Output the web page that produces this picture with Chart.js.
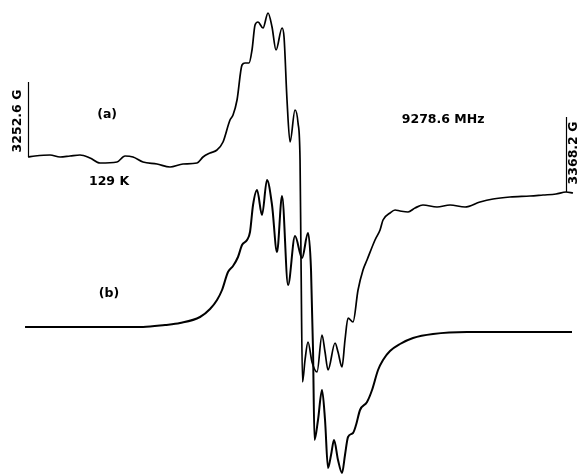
<!DOCTYPE html>
<html>
<head>
<meta charset="utf-8">
<script src="https://cdn.jsdelivr.net/npm/chart.js@4/dist/chart.umd.min.js"></script>
<style>
  html, body { margin: 0; padding: 0; background: #fff; }
  #wrap { width: 577px; height: 475px; position: relative; }
</style>
</head>
<body>
<div id="wrap"><canvas id="c"></canvas></div>
<script>
// ---- Data (magnetic field in gauss, signal in arbitrary units) ----
// (a) experimental spectrum, 129 K
const fieldA = [3252.60, 3254.10, 3257.33, 3259.48, 3261.63, 3263.77, 3265.92, 3268.07, 3271.72, 3273.44,
  3275.16, 3277.31, 3280.32, 3283.11, 3285.91, 3288.91, 3290.20, 3291.71, 3293.21, 3294.50,
  3296.00, 3296.65, 3297.51, 3298.58, 3299.23, 3300.09, 3300.73, 3301.38, 3302.02, 3303.09,
  3304.17, 3305.03, 3305.89, 3307.18, 3307.61, 3308.25, 3308.90, 3309.97, 3310.62, 3311.05,
  3311.26, 3311.58, 3312.12, 3312.76, 3313.62, 3314.70, 3315.77, 3316.42, 3317.06, 3318.57,
  3319.21, 3320.07, 3320.71, 3321.36, 3322.43, 3323.51, 3324.58, 3325.44, 3327.16, 3328.24,
  3328.88, 3330.38, 3331.46, 3332.53, 3334.25, 3335.76, 3337.47, 3340.48, 3343.28, 3346.50,
  3349.72, 3352.52, 3356.17, 3360.47, 3363.26, 3366.05, 3368.20, 3369.70];
const signalA = [0, 1, 2, 0, 1, 2, -1, -6, -5, 1,
  0, -5, -7, -10, -7, -6, 0, 4, 7, 15,
  37, 42, 57, 92, 94, 94, 107, 132, 135, 129,
  144, 130, 107, 129, 120, 57, 15, 47, 34, -3,
  -103, -225, -203, -185, -205, -215, -178, -195, -213, -186,
  -195, -210, -183, -161, -165, -133, -113, -103, -83, -73,
  -63, -56, -53, -54, -55, -51, -48, -50, -48, -50,
  -45, -42, -40, -39, -38, -37, -35, -36];

// (b) simulated spectrum
const fieldB = [3251.96, 3259.48, 3268.07, 3277.31, 3282.04, 3285.26, 3289.56, 3291.71, 3293.21, 3294.29,
  3295.57, 3296.65, 3297.72, 3298.58, 3299.66, 3300.30, 3300.95, 3301.81, 3302.88, 3303.95,
  3305.03, 3306.10, 3307.18, 3308.47, 3309.97, 3311.48, 3312.76, 3313.41, 3313.84, 3314.16,
  3314.91, 3315.77, 3316.42, 3317.06, 3317.71, 3318.35, 3319.21, 3320.07, 3320.71, 3321.36,
  3322.43, 3323.08, 3323.94, 3325.44, 3326.52, 3327.81, 3328.88, 3330.38, 3332.53, 3335.33,
  3339.62, 3346.93, 3354.02, 3362.61, 3369.49];
const signalB = [0, 0, 0, 0, 2, 4, 10, 18, 27, 37,
  55, 61, 70, 82, 87, 95, 122, 137, 112, 147,
  122, 75, 131, 42, 91, 69, 94, 57, -23, -113,
  -93, -63, -93, -141, -128, -113, -133, -146, -128, -110,
  -106, -98, -83, -75, -63, -43, -33, -24, -17, -11,
  -7, -5, -5, -5, -5];

// Field markers and annotation texts
const fieldLimits = [3252.6, 3368.2];
const fieldLimitLabels = ['3252.6 G', '3368.2 G'];
const traceLabels = ['(a)', '(b)'];
const tempLabel = '129 K';
const freqLabel = '9278.6 MHz';

// ---- Layout (display offsets, not data) ----
const offsetA = 318, offsetB = 148;
const xMin = 3246.58, xMax = 3370.56;

const ptsA = fieldA.map((f, i) => ({ x: f, y: signalA[i] + offsetA }));
const ptsB = fieldB.map((f, i) => ({ x: f, y: signalB[i] + offsetB }));

const textItems = [
  { text: traceLabels[0], x: 3269.6, y: 360 },
  { text: tempLabel, x: 3270.0, y: 293 },
  { text: freqLabel, x: 3341.8, y: 355 },
  { text: traceLabels[1], x: 3270.0, y: 181 },
  { text: fieldLimitLabels[0], x: 3250.4, y: 354, rot: true },
  { text: fieldLimitLabels[1], x: 3369.85, y: 322, rot: true }
];
const markers = [
  { x: fieldLimits[0], y0: signalA[0] + offsetA, len: 75 },
  { x: fieldLimits[1], y0: -35 + offsetA, len: 75 }
];

const overlay = {
  id: 'overlay',
  afterDatasetsDraw(chart) {
    const ctx = chart.ctx, xs = chart.scales.x, ys = chart.scales.y;
    ctx.save();
    ctx.strokeStyle = '#000';
    ctx.lineWidth = 1.2;
    markers.forEach(m => {
      const px = Math.round(xs.getPixelForValue(m.x)) + 0.5;
      ctx.beginPath();
      ctx.moveTo(px, ys.getPixelForValue(m.y0));
      ctx.lineTo(px, ys.getPixelForValue(m.y0 + m.len));
      ctx.stroke();
    });
    ctx.fillStyle = '#000';
    ctx.font = 'bold 12.5px "DejaVu Sans"';
    ctx.textAlign = 'center';
    ctx.textBaseline = 'middle';
    textItems.forEach(t => {
      const px = xs.getPixelForValue(t.x), py = ys.getPixelForValue(t.y);
      ctx.save();
      ctx.translate(px, py);
      if (t.rot) ctx.rotate(-Math.PI / 2);
      ctx.fillText(t.text, 0, 0);
      ctx.restore();
    });
    ctx.restore();
  }
};

new Chart(document.getElementById('c'), {
  type: 'line',
  data: {
    datasets: [
      { label: 'a', data: ptsA, borderColor: '#000', borderWidth: 1.7, pointRadius: 0,
        cubicInterpolationMode: 'monotone', fill: false, clip: false },
      { label: 'b', data: ptsB, borderColor: '#000', borderWidth: 2, pointRadius: 0,
        cubicInterpolationMode: 'monotone', fill: false, clip: false }
    ]
  },
  options: {
    responsive: true,
    maintainAspectRatio: false,
    animation: false,
    layout: { padding: 0 },
    plugins: { legend: { display: false }, tooltip: { enabled: false }, title: { display: false } },
    scales: {
      x: { type: 'linear', min: xMin, max: xMax, display: false },
      y: { type: 'linear', min: 0, max: 475, display: false }
    }
  },
  plugins: [overlay]
});
</script>
</body>
</html>
